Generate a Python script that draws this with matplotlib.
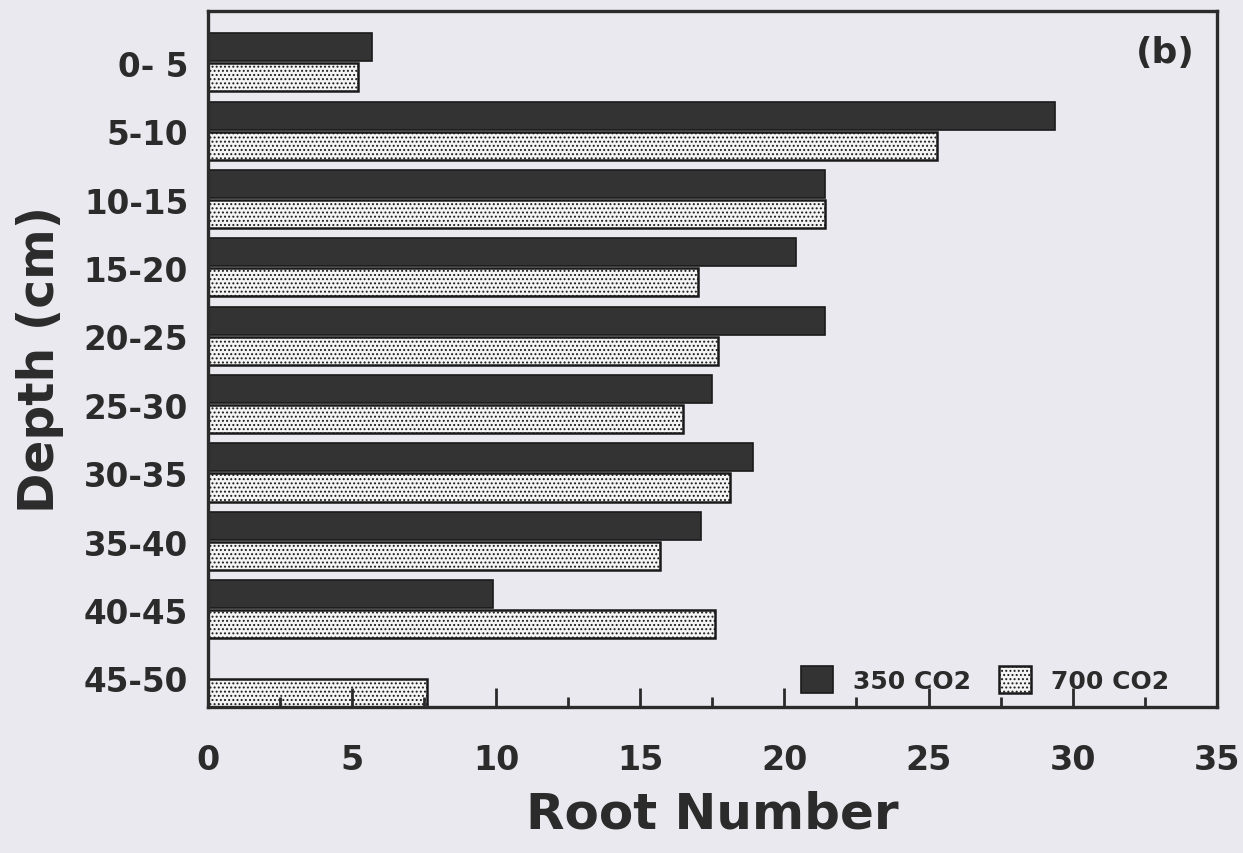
import matplotlib.pyplot as plt
import numpy as np

plt.rcParams['font.family'] = ['DejaVu Sans']
plt.rcParams['font.weight'] = 'bold'
plt.rcParams['axes.labelweight'] = 'bold'
plt.rcParams['hatch.color'] = '#777777'
plt.rcParams['hatch.linewidth'] = 0.9

depths = ["0- 5", "5-10", "10-15", "15-20", "20-25", "25-30",
          "30-35", "35-40", "40-45", "45-50"]
co2_350 = [5.7, 29.4, 21.4, 20.4, 21.4, 17.5, 18.9, 17.1, 9.9, 0.0]
co2_700 = [5.2, 25.3, 21.4, 17.0, 17.7, 16.5, 18.1, 15.7, 17.6, 7.6]

paper = '#e9e9ef'
ink = '#2b2b2b'

fig = plt.figure(figsize=(12.43, 8.54), dpi=100, facecolor=paper)
ax = fig.add_axes([0.167, 0.171, 0.812, 0.815])
ax.set_facecolor(paper)

y = np.arange(len(depths))
h = 0.41
ax.barh(y - 0.23, co2_350, height=h, color='#333333', edgecolor='#1a1a1a',
        linewidth=1.2, label='350 CO2')
ax.barh(y + 0.21, co2_700, height=h, color='#f4f4f4', edgecolor='#1a1a1a',
        linewidth=1.8, hatch='....', label='700 CO2')

ax.set_xlim(0, 35)
ax.set_ylim(9.42, -0.76)
ax.set_xticks(np.arange(0, 36, 5))
ax.set_xticks(np.arange(2.5, 35, 5), minor=True)
ax.set_yticks(y)
ax.set_yticklabels(depths)
ax.tick_params(axis='x', which='major', direction='in', length=14, width=2,
               pad=26, labelsize=24, labelcolor=ink, color=ink)
ax.tick_params(axis='x', which='minor', direction='in', length=7, width=2,
               color=ink)
ax.tick_params(axis='y', length=0, pad=14, labelsize=23.5, labelcolor=ink)

for s in ax.spines.values():
    s.set_linewidth(2.4)
    s.set_color(ink)

ax.set_xlabel('Root Number', fontsize=36, color=ink, labelpad=10)
ax.set_ylabel('Depth (cm)', fontsize=35, color=ink, labelpad=14)

ax.text(0.978, 0.965, '(b)', transform=ax.transAxes, ha='right', va='top',
        fontsize=26, color=ink)

ax.legend(loc='lower right', bbox_to_anchor=(0.975, -0.012), ncol=2,
          frameon=False, fontsize=18, handlelength=1.3, handleheight=1.3,
          columnspacing=1.1, handletextpad=0.8, labelcolor=ink)

fig.savefig('out.png', dpi=100, facecolor=paper)
